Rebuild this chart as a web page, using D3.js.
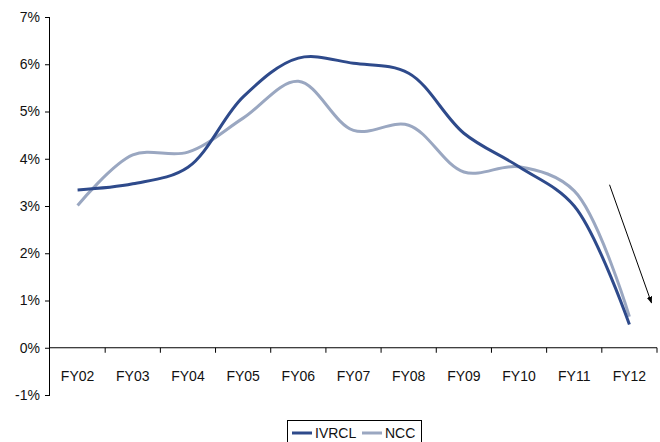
<!DOCTYPE html>
<html>
<head>
<meta charset="utf-8">
<script src="https://cdn.jsdelivr.net/npm/d3@7"></script>
<style>
  body { margin: 0; background: #fff; }
  text { font-family: "Liberation Sans", Arial, sans-serif; }
</style>
</head>
<body>
<div id="chart"></div>
<script>
// data (share of revenue, %)
const years = ["FY02", "FY03", "FY04", "FY05", "FY06", "FY07", "FY08", "FY09", "FY10", "FY11", "FY12"];
const ivrcl = [3.34, 3.47, 3.82, 5.31, 6.13, 6.02, 5.81, 4.54, 3.83, 3.0, 0.49];
const ncc = [3.01, 4.08, 4.14, 4.86, 5.64, 4.6, 4.71, 3.72, 3.83, 3.32, 0.66];
const yTicks = [-1, 0, 1, 2, 3, 4, 5, 6, 7];
// arrow annotation in (category index, value) units
const arrowFrom = [9.64, 3.45];
const arrowTo = [10.4, 0.95];

let width = 660,
height = 442;

let margin = {top: 17, left: 50, right: 3, bottom: 47};

let svg = d3.select("#chart")
  .append("svg")
  .attr("width", width)
  .attr("height", height);

let x = d3.scaleBand()
  .domain(years)
  .range([margin.left, width - margin.right]);

// index scale for the arrow (same spacing as the bands)
let xi = d3.scaleLinear()
  .domain([-0.5, years.length - 0.5])
  .range([margin.left, width - margin.right]);

let y = d3.scaleLinear()
  .domain([-1, 7])
  .range([height - margin.bottom, margin.top]);

// y axis
let yAxis = svg.append("g")
  .attr("transform", `translate(${margin.left},0)`)
  .call(d3.axisLeft(y).tickValues(yTicks).tickSize(5).tickPadding(5).tickFormat(d => d + "%"));
yAxis.select(".domain").attr("stroke", "#000").attr("d", `M-0.5,${y(-1)}V${y(7)}`);
yAxis.selectAll(".tick line").attr("stroke", "#000");
yAxis.selectAll(".tick text").attr("font-size", 14).attr("fill", "#111");

// x axis at 0%
let xAxis = svg.append("g")
  .attr("transform", `translate(0,${y(0)})`);
xAxis.append("line")
  .attr("x1", margin.left)
  .attr("x2", width - margin.right)
  .attr("stroke", "#000");
xAxis.selectAll(".tk")
  .data(years.slice(1).concat(["end"]))
  .join("line")
  .attr("class", "tk")
  .attr("x1", (d, i) => x.bandwidth() * (i + 1) + margin.left)
  .attr("x2", (d, i) => x.bandwidth() * (i + 1) + margin.left)
  .attr("y1", 0)
  .attr("y2", 5)
  .attr("stroke", "#000");
xAxis.selectAll(".lbl")
  .data(years)
  .join("text")
  .attr("class", "lbl")
  .attr("x", d => x(d) + x.bandwidth() / 2)
  .attr("y", 33)
  .attr("text-anchor", "middle")
  .attr("font-size", 14)
  .attr("fill", "#111")
  .text(d => d);

// lines
let line = d3.line()
  .x((d, i) => x(years[i]) + x.bandwidth() / 2)
  .y(d => y(d))
  .curve(d3.curveCatmullRom.alpha(0.5));

let series = [
  {name: "IVRCL", values: ivrcl, color: "#2e4a8b"},
  {name: "NCC", values: ncc, color: "#9aa7c1"}
];

svg.selectAll(".series")
  .data(series.slice().reverse())
  .join("path")
  .attr("class", "series")
  .attr("d", d => line(d.values))
  .attr("fill", "none")
  .attr("stroke", d => d.color)
  .attr("stroke-width", 3);

// arrow
svg.append("defs").append("marker")
  .attr("id", "head")
  .attr("viewBox", "0 0 10 10")
  .attr("refX", 9).attr("refY", 5)
  .attr("markerWidth", 7).attr("markerHeight", 7)
  .attr("orient", "auto")
  .append("path")
  .attr("d", "M0,1L10,5L0,9Z")
  .attr("fill", "#000");

svg.append("line")
  .attr("x1", xi(arrowFrom[0])).attr("y1", y(arrowFrom[1]))
  .attr("x2", xi(arrowTo[0])).attr("y2", y(arrowTo[1]))
  .attr("stroke", "#000")
  .attr("stroke-width", 1)
  .attr("marker-end", "url(#head)");

// legend
let lg = svg.append("g").attr("transform", "translate(287,420)");
lg.append("rect")
  .attr("x", 0.5).attr("y", 0.5)
  .attr("width", 134).attr("height", 30)
  .attr("fill", "#fff")
  .attr("stroke", "#000");
let items = lg.selectAll(".item")
  .data(series)
  .join("g")
  .attr("class", "item")
  .attr("transform", (d, i) => `translate(${5 + i * 70},13)`);
items.append("line")
  .attr("x1", 0).attr("x2", 20)
  .attr("stroke", d => d.color)
  .attr("stroke-width", 3);
items.append("text")
  .attr("x", 23).attr("y", 5)
  .attr("font-size", 14)
  .attr("fill", "#111")
  .text(d => d.name);
</script>
</body>
</html>
